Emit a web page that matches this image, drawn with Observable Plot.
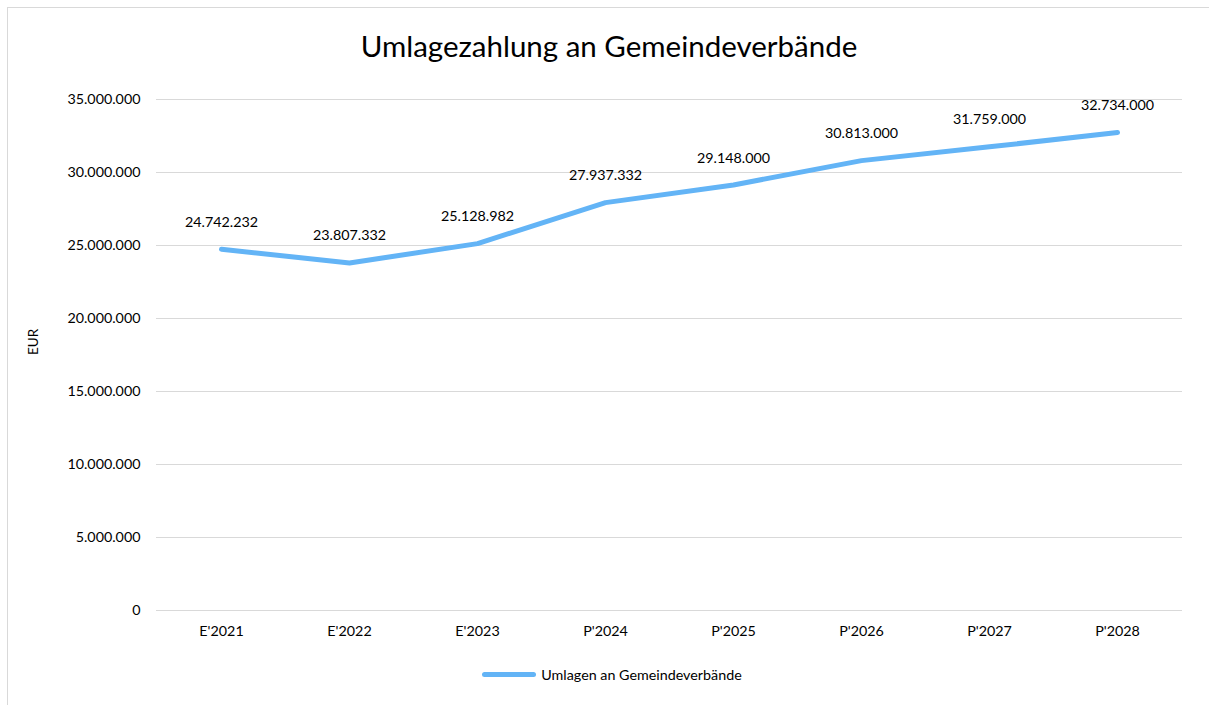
<!DOCTYPE html>
<html>
<head>
<meta charset="utf-8">
<script src="https://cdn.jsdelivr.net/npm/d3@7"></script>
<script src="https://cdn.jsdelivr.net/npm/@observablehq/plot@0.6"></script>
<style>
  html, body { margin: 0; padding: 0; background: #fff; }
  body { width: 1209px; height: 705px; position: relative; overflow: hidden; font-family: Lato, "Open Sans", sans-serif; }
  #frame { position: absolute; left: 7px; top: 7px; width: 1220px; height: 720px; border: 1px solid #d9d9d9; box-sizing: border-box; }
  #title { position: absolute; left: 0; top: 28px; width: 1218px; text-align: center; font-size: 29.5px; color: #000; }
  #chart { position: absolute; left: 0; top: 75px; }
  #legend { position: absolute; left: 0; top: 666px; width: 1224px; display: flex; justify-content: center; align-items: center; font-size: 14.3px; color: #000; }
  #legend .sw { width: 54px; height: 5px; border-radius: 3px; background: #63b4f6; margin-right: 5px; }
</style>
</head>
<body>
<div id="frame"></div>
<div id="title">Umlagezahlung an Gemeindeverbände</div>
<div id="chart"></div>
<div id="legend"><span class="sw"></span><span>Umlagen an Gemeindeverbände</span></div>
<script>
const categories = ["E'2021", "E'2022", "E'2023", "P'2024", "P'2025", "P'2026", "P'2027", "P'2028"];
const values = [24742232, 23807332, 25128982, 27937332, 29148000, 30813000, 31759000, 32734000];
const yTicks = [0, 5000000, 10000000, 15000000, 20000000, 25000000, 30000000, 35000000];
const seriesName = "Umlagen an Gemeindeverbände";

const locale = d3.formatLocale({decimal: ",", thousands: ".", grouping: [3], currency: ["", " €"]});
const fmt = locale.format(",d");
const data = categories.map((c, i) => ({cat: c, value: values[i]}));

const chart = Plot.plot({
  width: 1209,
  height: 575,
  marginTop: 24,
  marginBottom: 40,
  marginLeft: 156,
  marginRight: 27,
  style: {fontFamily: "Lato, 'Open Sans', sans-serif", fontSize: "14.3px", color: "#000", background: "transparent"},
  x: {type: "point", domain: categories, padding: 0.5, label: null},
  y: {domain: [0, 35000000], ticks: yTicks, label: null},
  marks: [
    Plot.gridY(yTicks, {stroke: "#d9d9d9", strokeOpacity: 1, strokeWidth: 1}),
    Plot.axisY(yTicks, {tickSize: 0, tickPadding: 16, tickFormat: fmt, fontSize: 14.3, label: null}),
    Plot.axisX({tickSize: 0, tickPadding: 15, fontSize: 14.3, label: null}),
    Plot.text(["EUR"], {frameAnchor: "left", dx: -123, rotate: -90, fontSize: 13.5}),
    Plot.line(data, {x: "cat", y: "value", stroke: "#63b4f6", strokeWidth: 5, strokeLinecap: "round", strokeLinejoin: "round"}),
    Plot.text(data, {x: "cat", y: "value", text: d => fmt(d.value), dy: -27, fontSize: 14.3, fill: "#000"})
  ]
});
document.getElementById("chart").appendChild(chart);
</script>
</body>
</html>
